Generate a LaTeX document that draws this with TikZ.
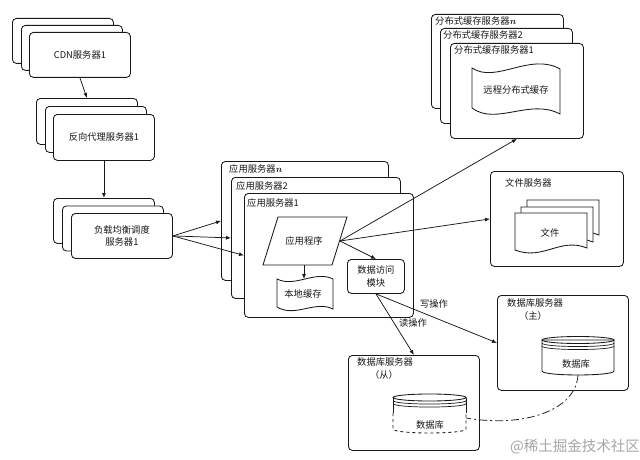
\documentclass[tikz,border=0pt]{standalone}
\usepackage{fontspec}
\newfontfamily\cjk{Noto Sans CJK SC}
\usetikzlibrary{arrows.meta,calc}
\newcommand{\itn}{{\rmfamily\bfseries\itshape n}}
\begin{document}
\begin{tikzpicture}[x=1pt,y=-1pt,
  box/.style={draw=black!90, fill=white, rounded corners=4pt, line width=0.85pt, inner sep=0pt, anchor=north west},
  arr/.style={-{Latex[length=5pt,width=4pt]}, line width=0.75pt, draw=black!90},
  lbl/.style={font=\cjk\fontsize{9.3}{12.5}\selectfont, text=black!90, inner sep=0pt, align=center},
  docline/.style={draw=black!90, fill=white, line width=0.85pt},
  dashdot/.style={line width=0.8pt, draw=black!85, dash pattern=on 8pt off 3pt on 2pt off 3pt},
  doc/.pic={\path[docline] (0,0) -- (72,0) -- (72,35) .. controls (45,24) and (28,48) .. (0,37) -- cycle;}
]
\fill[white] (0,0) rectangle (640,460);
\useasboundingbox (0,0) rectangle (640,460);

% CDN stack
\node[box, minimum width=101pt, minimum height=45pt] (cdn3) at (12,18) {};
\node[box, minimum width=101pt, minimum height=45pt] (cdn2) at (21,25) {};
\node[box, minimum width=101pt, minimum height=45pt] (cdn1) at (29,32) {};
\node[lbl] (cdnt) at (cdn1.center) {CDN服务器1};

% reverse proxy stack
\node[box, minimum width=101pt, minimum height=46pt] (px3) at (36,98) {};
\node[box, minimum width=101pt, minimum height=46pt] (px2) at (45,106) {};
\node[box, minimum width=101pt, minimum height=46pt] (px1) at (53,114) {};
\node[lbl] (pxt) at (px1.center) {反向代理服务器1};

% load balancer stack
\node[box, minimum width=101pt, minimum height=45pt] (lb3) at (53,198) {};
\node[box, minimum width=101pt, minimum height=45pt] (lb2) at (62,205.5) {};
\node[box, minimum width=101pt, minimum height=45pt] (lb1) at (71,213) {};
\node[lbl] (lbt) at (lb1.center) {负载均衡调度\\服务器1};

% application servers
\node[box, minimum width=167pt, minimum height=119pt] (as3) at (221,161) {};
\node[lbl, anchor=west] (as3t) at (229,169) {应用服务器\itn};
\node[box, minimum width=169pt, minimum height=121pt] (as2) at (231,177) {};
\node[lbl, anchor=west] (as2t) at (236,186) {应用服务器2};
\node[box, minimum width=169pt, minimum height=124pt] (as1) at (244,193) {};
\node[lbl, anchor=west] (as1t) at (247,203) {应用服务器1};

% application program (parallelogram)
\path[docline] (263,265) -- (278,217) -- (347,217) -- (332,265) -- cycle;
\node[lbl, minimum height=48pt] (app) at (304,241) {应用程序};
\coordinate (appR) at (340,241);

% local cache (tape)
\path[docline] (277,279) .. controls (295,288) and (315,270) .. (333,279)
  -- (333,309) .. controls (315,300) and (295,318) .. (277,307) -- cycle;
\node[lbl] (lc) at (303,294) {本地缓存};
\coordinate (lcT) at (304,279);

% data access module
\node[box, minimum width=57pt, minimum height=34pt] (dam) at (347,259) {};
\node[lbl] (damt) at (dam.center) {数据访问\\模块};

% distributed cache stack
\node[box, minimum width=132pt, minimum height=94pt] (dc3) at (431,14) {};
\node[lbl, anchor=west] (dc3t) at (435,21) {分布式缓存服务器\itn};
\node[box, minimum width=132pt, minimum height=95pt] (dc2) at (440,28) {};
\node[lbl, anchor=west] (dc2t) at (443,35) {分布式缓存服务器2};
\node[box, minimum width=133pt, minimum height=95pt] (dc1) at (450,43) {};
\node[lbl, anchor=west] (dc1t) at (454,50) {分布式缓存服务器1};
\path[docline] (472,68) .. controls (496,84) and (530,52) .. (560,69)
  -- (560,114) .. controls (530,98) and (496,126) .. (472,108) -- cycle;
\node[lbl] (rc) at (516,90) {远程分布式缓存};

% file server
\node[box, minimum width=133pt, minimum height=95pt] (fs) at (490,171) {};
\node[lbl, anchor=west] (fst) at (505,183) {文件服务器};
\pic at (527,200) {doc};
\pic at (521,207) {doc};
\pic at (515,213) {doc};
\node[lbl] (file) at (550,233) {文件};

% database master
\node[box, minimum width=131pt, minimum height=95pt] (dbm) at (497,295) {};
\node[lbl, anchor=west] (dbmt) at (507,303) {数据库服务器};
\node[lbl] (dbmt2) at (533,316) {（主）};
\path[docline] (542,340) -- (542,371) .. controls (542,376.3) and (614,376.3) .. (614,371) -- (614,340) -- cycle;
\draw[line width=0.85pt, draw=black!90] (578,340) ellipse [x radius=36pt, y radius=3.5pt];
\draw[line width=0.7pt, draw=black!90] (542,343) .. controls (542,347.7) and (614,347.7) .. (614,343);
\draw[line width=0.7pt, draw=black!90] (542,346) .. controls (542,350.7) and (614,350.7) .. (614,346);
\node[lbl] (dbmc) at (576,364) {数据库};
\coordinate (dbmB) at (578,375);

% database slave
\node[box, minimum width=131pt, minimum height=95pt] (dbs) at (348,355) {};
\node[lbl, anchor=west] (dbst) at (357,362) {数据库服务器};
\node[lbl] (dbst2) at (384,375) {（从）};
\fill[white] (393,397.5) rectangle (466,433);
\draw[line width=0.85pt, draw=black!90] (393,397.5) -- (393,413) (466,397.5) -- (466,413);
\draw[line width=0.85pt, draw=black!90, dashed] (393,413) -- (393,429) .. controls (393,434.3) and (466,434.3) .. (466,429) -- (466,413);
\draw[line width=0.85pt, draw=black!90] (429.5,397.5) ellipse [x radius=36.5pt, y radius=3.5pt];
\draw[line width=0.7pt, draw=black!90] (393,400.5) .. controls (393,405.2) and (466,405.2) .. (466,400.5);
\draw[line width=0.7pt, draw=black!90] (393,403.5) .. controls (393,408.2) and (466,408.2) .. (466,403.5);
\node[lbl] (dbsc) at (430,425) {数据库};
\coordinate (dbsR) at (466,418);

% connectors
\draw[arr] (cdn1.south) -- (px3.north);
\draw[arr] (px1.south) -- (lb3.north);
\draw[arr] (lb1.east) -- (as3.west);
\draw[arr] (lb1.east) -- (as2.west);
\draw[arr] (lb1.east) -- (as1.west);
\draw[arr] (appR) -- (dc1.south);
\draw[arr] (appR) -- (fs.west);
\draw[arr] (appR) -- (dam.north);
\draw[arr] (lcT |- app.south) -- (lcT);
\draw[arr] (dam.south) -- (dbm.west);
\draw[arr] (dam.south) -- (dbs.north);
\node[lbl] (wr) at (434,304) {写操作};
\node[lbl] (rd) at (413,323) {读操作};
\draw[dashdot] (dbmB) .. controls (576,410) and (525,428) .. (dbsR);

% watermark
\node[font=\cjk\fontsize{14.5}{15}\selectfont, text=black!35, inner sep=0pt] (wm) at (575,447) {@稀土掘金技术社区};
\end{tikzpicture}
\end{document}
